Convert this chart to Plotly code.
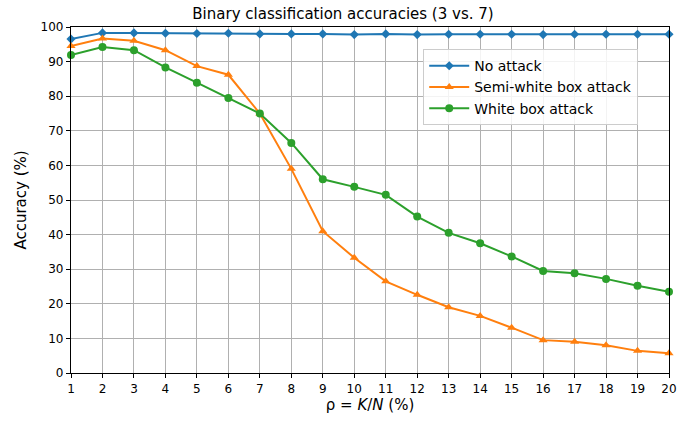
import plotly.graph_objects as go

rho = list(range(1, 21))
no_attack = [96.5, 98.3, 98.3, 98.2, 98.1, 98.2, 98.0, 98.0, 98.0, 97.8, 98.0, 97.8, 97.9, 97.9, 97.9, 97.8, 97.9, 97.9, 97.9, 97.9]
semi_white = [94.5, 96.7, 96.0, 93.3, 88.7, 86.2, 75.0, 59.0, 41.0, 33.3, 26.5, 22.6, 19.0, 16.5, 13.1, 9.5, 9.0, 8.0, 6.4, 5.7]
white = [91.9, 94.2, 93.3, 88.3, 83.9, 79.5, 75.0, 66.5, 56.0, 53.8, 51.5, 45.2, 40.5, 37.5, 33.7, 29.5, 28.8, 27.2, 25.2, 23.5]

names = ["No attack", "Semi-white box attack", "White box attack"]
colors = ["#1f77b4", "#ff7f0e", "#2ca02c"]
symbols = ["diamond", "triangle-up", "circle"]
msizes = [7, 8, 8]

fig = go.Figure()
for ys, n, c, s, ms in zip([no_attack, semi_white, white], names, colors, symbols, msizes):
    fig.add_trace(go.Scatter(x=rho, y=ys, name=n, mode="lines+markers",
                             line=dict(color=c, width=2),
                             marker=dict(symbol=s, size=ms, color=c),
                             cliponaxis=False))

axis_common = dict(showline=True, linecolor="black", linewidth=1.2, mirror=True,
                   showgrid=True, gridcolor="#b0b0b0", gridwidth=1,
                   ticks="outside", ticklen=4, tickcolor="black", zeroline=False,
                   automargin=False,
                   tickfont=dict(size=12, color="black"))

fig.update_layout(
    width=686, height=423,
    margin=dict(l=71, r=17, t=27, b=50),
    paper_bgcolor="white", plot_bgcolor="white",
    font=dict(family="DejaVu Sans", color="black"),
    title=dict(text="Binary classification accuracies (3 vs. 7)", x=0.5, xanchor="center",
               y=0.967, yanchor="middle", font=dict(size=15)),
    xaxis=dict(range=[1, 20], tickvals=rho, title=dict(text="ρ = <i>K</i>/<i>N</i> (%)", font=dict(size=15), standoff=4), **axis_common),
    yaxis=dict(range=[0, 100], tickvals=list(range(0, 101, 10)), title=dict(text="Accuracy (%)", font=dict(size=15), standoff=10), **axis_common),
    legend=dict(x=0.589, y=0.936, xanchor="left", yanchor="top", bgcolor="rgba(255,255,255,0.85)",
                bordercolor="#cccccc", borderwidth=1, font=dict(size=14), tracegroupgap=2,
                itemwidth=40),
    showlegend=True,
)

fig.write_html("out.html", config={"displayModeBar": False},
               post_script="document.body.style.margin='0';document.body.style.padding='0';")
